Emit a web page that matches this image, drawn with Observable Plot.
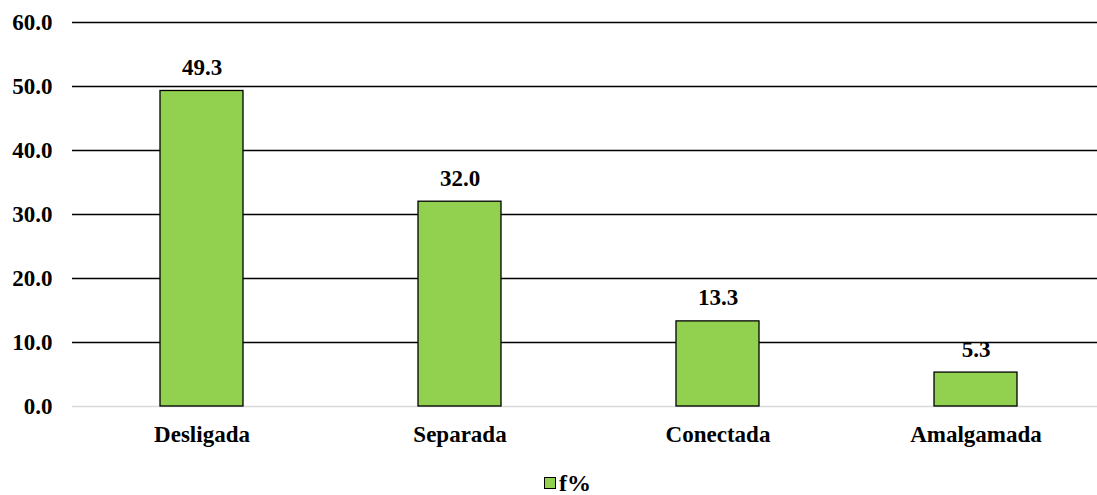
<!DOCTYPE html>
<html>
<head>
<meta charset="utf-8">
<script src="https://cdn.jsdelivr.net/npm/d3@7"></script>
<script src="https://cdn.jsdelivr.net/npm/@observablehq/plot@0.6"></script>
<style>
  html, body { margin: 0; padding: 0; background: #fff; }
  #chart svg { display: block; }
  #chart svg text { font-family: 'Liberation Serif', 'Times New Roman', serif !important; }
  #legend { position: absolute; left: 0; top: 472px; width: 1097px; height: 22px; line-height: 22px;
    display: flex; justify-content: center; align-items: center; padding-left: 38px; box-sizing: border-box;
    font-family: 'Liberation Serif', 'Times New Roman', serif; font-weight: bold; font-size: 24px; color: #000; }
  #legend .sw { width: 10px; height: 10px; background: #92D050; border: 1.5px solid #000; margin-right: 3px; }
</style>
</head>
<body>
<div id="chart"></div>
<div id="legend"><span class="sw"></span><span>f%</span></div>
<script>
const categories = ["Desligada", "Separada", "Conectada", "Amalgamada"];
const values = [49.3, 32.0, 13.3, 5.3];
const yTicks = [0, 10, 20, 30, 40, 50, 60];
const seriesName = "f%";

const data = categories.map((c, i) => ({category: c, value: values[i]}));

const chart = Plot.plot({
  width: 1097,
  height: 470,
  marginLeft: 72,
  marginRight: -7,
  marginTop: 22,
  marginBottom: 64,
  style: {fontFamily: "'Liberation Serif', 'Times New Roman', serif", fontWeight: "bold", fontSize: "23px", color: "#000", background: "#fff"},
  x: {domain: categories, paddingInner: 0.68, paddingOuter: 0.34, label: null},
  y: {domain: [0, 60], ticks: yTicks, label: null},
  marks: [
    Plot.ruleY(yTicks.filter(d => d > 0), {stroke: "#000", strokeWidth: 1.5}),
    Plot.ruleY([0], {stroke: "#d9d9d9", strokeWidth: 1.5}),
    Plot.barY(data, {x: "category", y: "value", fill: "#92D050", stroke: "#000", strokeWidth: 1.3}),
    Plot.text(data, {x: "category", y: "value", text: d => d.value.toFixed(1), lineAnchor: "bottom", dy: -16, fontSize: 23, fontWeight: "bold", fill: "#000"}),
    Plot.axisY({ticks: yTicks, tickSize: 0, tickPadding: 20, tickFormat: d => d.toFixed(1), fontSize: 23, fontWeight: "bold", label: null}),
    Plot.axisX({tickSize: 0, tickPadding: 19, fontSize: 23, fontWeight: "bold", label: null})
  ]
});
document.getElementById("chart").appendChild(chart);
document.getElementById("legend").lastElementChild.textContent = seriesName;
</script>
</body>
</html>
